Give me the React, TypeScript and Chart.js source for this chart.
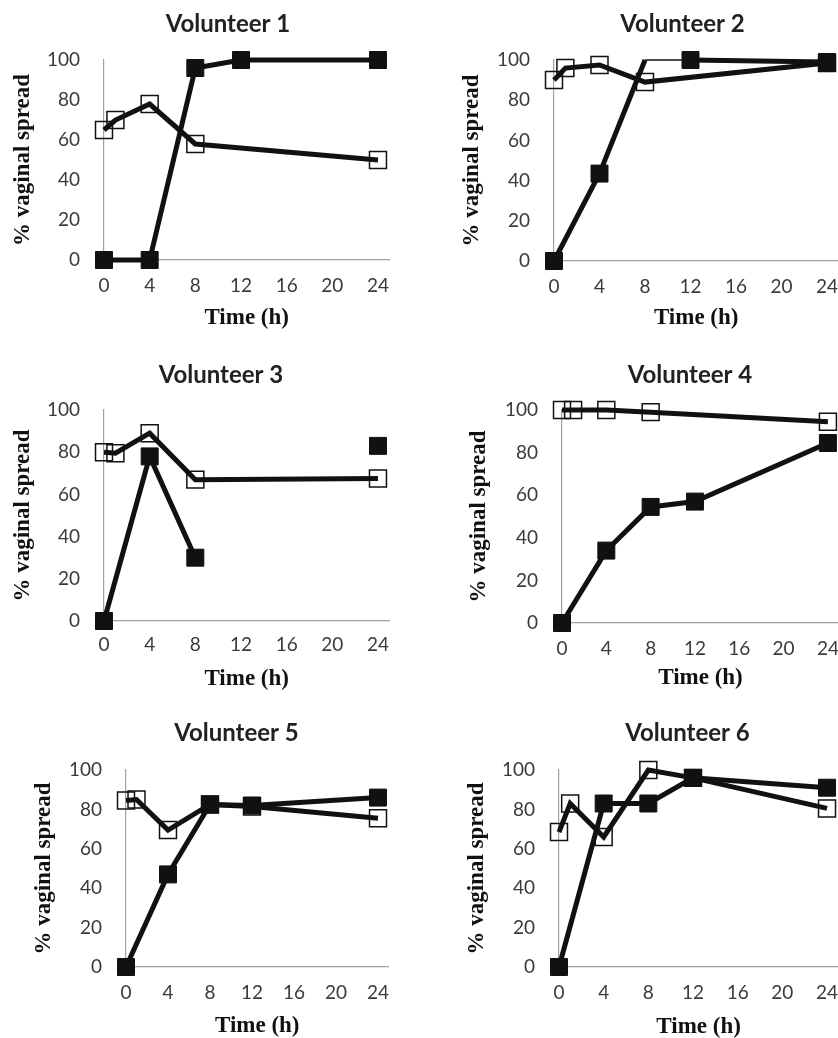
import React, { useEffect, useRef } from 'react';
import { Chart, registerables } from 'chart.js';

Chart.register(...registerables);

// ---------- data ----------
const TIMES_OPEN_A = [0, 1, 4, 8, 24];
const TIMES_OPEN_B = [0, 1, 4, 8, 12, 24];
const TIMES_FILLED = [0, 4, 8, 12, 24];
const X_TICKS = [0, 4, 8, 12, 16, 20, 24];
const Y_TICKS = [0, 20, 40, 60, 80, 100];
const X_MAX = 25;
const Y_MAX = 100;

const TITLES = ['Volunteer 1', 'Volunteer 2', 'Volunteer 3', 'Volunteer 4', 'Volunteer 5', 'Volunteer 6'];
const X_TITLE = 'Time (h)';
const Y_TITLE = '% vaginal spread';

const V1_OPEN = [65, 70, 78, 58, 50];
const V1_FILLED = [0, 0, 96, 100, 100];
const V2_OPEN = [90, 96, 97.5, 89, 98.5];
const V2_FILLED = [0, 43.5, 100, 100, 99];
const V3_OPEN = [80, 79.5, 89, 67, 67.5];
const V3_FILLED = [0, 78, 30, null, 83];
const V4_OPEN = [100, 100, 100, 99, 94.5];
const V4_FILLED = [0, 34, 54.5, 57, 84.5];
const V5_OPEN = [84.5, 85, 69.5, 82.5, 81.5, 75.5];
const V5_FILLED = [0, 47, 82.5, 82, 86];
const V6_OPEN = [68.5, 83, 66, 100, 96, 80.5];
const V6_FILLED = [0, 83, 83, 96, 91];

// Volunteer 2: filled series has no marker at 8 h, thin segment 8 h -> 12 h
const V2_NO_MARKER_AT = 8;
const V2_THIN_FROM = 8;

type PanelData = {
  title: string;
  openT: number[];
  openV: (number | null)[];
  fillT: number[];
  fillV: (number | null)[];
  noMarkerAt?: number;
  thinFrom?: number;
};

const PANELS: PanelData[] = [
  { title: TITLES[0], openT: TIMES_OPEN_A, openV: V1_OPEN, fillT: TIMES_FILLED, fillV: V1_FILLED },
  { title: TITLES[1], openT: TIMES_OPEN_A, openV: V2_OPEN, fillT: TIMES_FILLED, fillV: V2_FILLED, noMarkerAt: V2_NO_MARKER_AT, thinFrom: V2_THIN_FROM },
  { title: TITLES[2], openT: TIMES_OPEN_A, openV: V3_OPEN, fillT: TIMES_FILLED, fillV: V3_FILLED },
  { title: TITLES[3], openT: TIMES_OPEN_A, openV: V4_OPEN, fillT: TIMES_FILLED, fillV: V4_FILLED },
  { title: TITLES[4], openT: TIMES_OPEN_B, openV: V5_OPEN, fillT: TIMES_FILLED, fillV: V5_FILLED },
  { title: TITLES[5], openT: TIMES_OPEN_B, openV: V6_OPEN, fillT: TIMES_FILLED, fillV: V6_FILLED },
];

// ---------- layout (page coordinates) ----------
type Layout = {
  boxLeft: number;
  chartL: number; chartR: number; chartT: number; chartB: number;
  titleCX: number; titleCY: number;
  xTickCY: number; xTitleCY: number; yTitleCX: number;
};

const LAYOUTS: Layout[] = [
  { boxLeft: 0, chartL: 104, chartR: 389.4, chartT: 60, chartB: 260, titleCX: 228, titleCY: 24, xTickCY: 285.8, xTitleCY: 318, yTitleCX: 23 },
  { boxLeft: 440, chartL: 554, chartR: 838.4, chartT: 60, chartB: 261, titleCX: 682.5, titleCY: 24, xTickCY: 286.7, xTitleCY: 318, yTitleCX: 472.5 },
  { boxLeft: 0, chartL: 104, chartR: 389.4, chartT: 410, chartB: 621, titleCX: 221, titleCY: 375, xTickCY: 645, xTitleCY: 679, yTitleCX: 23 },
  { boxLeft: 450, chartL: 562, chartR: 839, chartT: 410, chartB: 623, titleCX: 690, titleCY: 375, xTickCY: 649, xTitleCY: 678, yTitleCX: 479 },
  { boxLeft: 20, chartL: 126, chartR: 388.5, chartT: 770, chartB: 967, titleCX: 236.7, titleCY: 733.3, xTickCY: 993, xTitleCY: 1025.7, yTitleCX: 44 },
  { boxLeft: 455, chartL: 559, chartR: 838.2, chartT: 770, chartB: 967, titleCX: 687.5, titleCY: 733.3, xTickCY: 992.7, xTitleCY: 1027, yTitleCX: 477.5 },
];

const TITLE_SIZE = 24;
const AXIS_SIZE = 23;
const TICK_SIZE = 19;
const LH = 1.2;
const TITLE_LH = TITLE_SIZE * LH;
const AXIS_LH = AXIS_SIZE * LH;
const TICK_LH = TICK_SIZE * LH;

const INK = '#111111';
const TICK_INK = '#3a3a3a';
const AXIS_GRAY = '#a0a0a0';
const LINE_W = 5;
const MARK_R = 12;

function geometry(L: Layout) {
  const left = L.boxLeft;
  const W = Math.round(2 * (L.titleCX - left));
  const top = Math.round(L.titleCY - TITLE_LH / 2);
  const bottomEdge = Math.round(L.xTitleCY + AXIS_LH / 2 + 4);
  const H = bottomEdge - top;
  return {
    left, top, W, H,
    yW: L.chartL - left,
    y2W: left + W - L.chartR,
    titlePadBottom: L.chartT - top - TITLE_LH,
    titleCenterOffset: L.titleCY - top - TITLE_LH / 2,
    xH: bottomEdge - L.chartB,
    xTickPad: L.xTickCY - L.chartB - TICK_LH / 2,
    xTitlePadBottom: bottomEdge - L.xTitleCY - AXIS_LH / 2,
    yTitlePadTop: L.yTitleCX - left - AXIS_LH / 2,
  };
}

function pairs(t: number[], v: (number | null)[]) {
  return t.map((x, i) => ({ x, y: v[i] }));
}

function PanelChart({ panel, layout }: { panel: PanelData; layout: Layout }) {
  const ref = useRef<HTMLCanvasElement>(null);
  const g = geometry(layout);

  useEffect(() => {
    if (!ref.current) return;
    const chart = new Chart(ref.current, {
      type: 'line',
      data: {
        datasets: [
          {
            label: 'filled',
            data: pairs(panel.fillT, panel.fillV) as any,
            borderColor: INK,
            borderWidth: LINE_W,
            clip: false,
            pointStyle: 'rect',
            pointRadius: (ctx: any) => (panel.noMarkerAt !== undefined && ctx.raw && ctx.raw.x === panel.noMarkerAt ? 0 : MARK_R),
            pointBackgroundColor: INK,
            pointBorderColor: INK,
            pointBorderWidth: 1,
            spanGaps: false,
            tension: 0,
            segment: {
              borderWidth: (ctx: any) => (panel.thinFrom !== undefined && ctx.p0.parsed.x === panel.thinFrom ? 1.5 : LINE_W),
            },
          },
          {
            label: 'open',
            data: pairs(panel.openT, panel.openV) as any,
            borderColor: INK,
            borderWidth: LINE_W,
            clip: false,
            pointStyle: 'rect',
            pointRadius: MARK_R,
            pointBackgroundColor: 'rgba(0,0,0,0)',
            pointBorderColor: INK,
            pointBorderWidth: 1.5,
            tension: 0,
          },
        ],
      },
      options: {
        animation: false,
        responsive: false,
        events: [],
        layout: { padding: 0 },
        plugins: {
          legend: { display: false },
          tooltip: { enabled: false },
          title: {
            display: true,
            text: panel.title,
            color: '#222222',
            font: { family: 'Lato', size: TITLE_SIZE, weight: 'bold', lineHeight: LH },
            padding: { top: g.titleCenterOffset, bottom: g.titlePadBottom - g.titleCenterOffset },
          },
        },
        scales: {
          x: {
            type: 'linear',
            min: 0,
            max: X_MAX,
            afterBuildTicks: (s: any) => { s.ticks = X_TICKS.map((v) => ({ value: v })); },
            afterFit: (s: any) => { s.height = g.xH; },
            grid: { display: false, drawTicks: false },
            border: { display: true, color: AXIS_GRAY, width: 1.2 },
            ticks: {
              color: TICK_INK,
              font: { family: 'Lato', size: TICK_SIZE, lineHeight: LH },
              padding: g.xTickPad,
              maxRotation: 0,
              autoSkip: false,
            },
            title: {
              display: true,
              text: X_TITLE,
              color: INK,
              font: { family: '"Liberation Serif"', size: AXIS_SIZE, weight: 'bold', lineHeight: LH },
              padding: { top: 0, bottom: g.xTitlePadBottom },
            },
          },
          y: {
            type: 'linear',
            position: 'left',
            min: 0,
            max: Y_MAX,
            afterBuildTicks: (s: any) => { s.ticks = Y_TICKS.map((v) => ({ value: v })); },
            afterFit: (s: any) => { s.width = g.yW; },
            grid: { display: false, drawTicks: false },
            border: { display: true, color: AXIS_GRAY, width: 1.2 },
            ticks: {
              color: TICK_INK,
              font: { family: 'Lato', size: TICK_SIZE, lineHeight: LH },
              padding: 24,
            },
            title: {
              display: true,
              text: Y_TITLE,
              color: INK,
              font: { family: '"Liberation Serif"', size: AXIS_SIZE, weight: 'bold', lineHeight: LH },
              padding: { top: g.yTitlePadTop, bottom: 0 },
            },
          },
          spacer: {
            type: 'linear',
            position: 'right',
            display: true,
            afterFit: (s: any) => { s.width = g.y2W; },
            grid: { display: false, drawTicks: false },
            border: { display: false },
            ticks: { display: false },
            title: { display: false },
          },
        },
      } as any,
    });
    return () => chart.destroy();
  }, []);

  return (
    <canvas
      ref={ref}
      width={g.W}
      height={g.H}
      style={{ position: 'absolute', left: g.left, top: g.top, width: g.W, height: g.H }}
    />
  );
}

export default function App() {
  return (
    <div
      style={{
        position: 'absolute',
        left: 0,
        top: 0,
        width: 838,
        height: 1038,
        overflow: 'hidden',
        background: '#ffffff',
      }}
    >
      {PANELS.map((p, i) => (
        <PanelChart key={i} panel={p} layout={LAYOUTS[i]} />
      ))}
    </div>
  );
}
